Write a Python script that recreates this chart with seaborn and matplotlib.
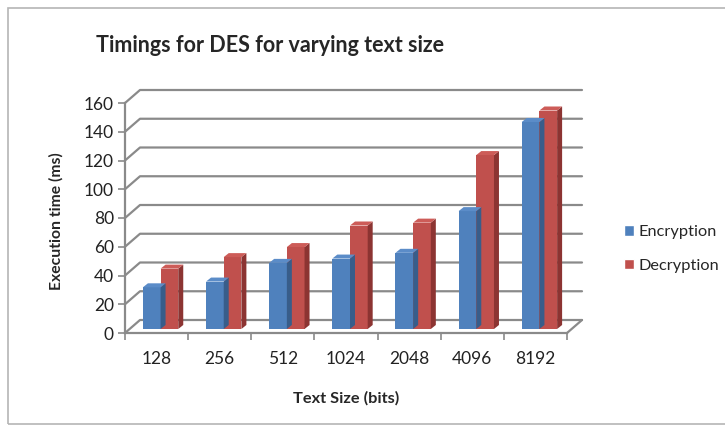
import matplotlib
matplotlib.use("Agg")
import matplotlib.pyplot as plt
from matplotlib.patches import Polygon, Rectangle
from matplotlib.lines import Line2D
import seaborn as sns
import pandas as pd

# Timing measurements (ms) per text size
text_sizes = ["128", "256", "512", "1024", "2048", "4096", "8192"]
encryption = [29, 33, 46, 49, 53, 82, 144]
decryption = [42, 50, 57, 72, 74, 121, 152]
series_names = ["Encryption", "Decryption"]
y_ticks = [0, 20, 40, 60, 80, 100, 120, 140, 160]

df = pd.DataFrame({
    "size": text_sizes * 2,
    "time": encryption + decryption,
    "series": [series_names[0]] * len(text_sizes) + [series_names[1]] * len(text_sizes),
})

sns.set_style("white")
plt.rcParams["font.family"] = ["Lato", "DejaVu Sans"]

W, H = 725, 430
fig = plt.figure(figsize=(W / 100, H / 100), dpi=100)
ax_left, ax_right, ax_bottom, ax_top = 125, 567, 333, 103
ax_w, ax_h = ax_right - ax_left, ax_bottom - ax_top
ax = fig.add_axes([ax_left / W, 1 - ax_bottom / H, ax_w / W, ax_h / H])

front = {"Encryption": "#4F81BD", "Decryption": "#C0504D"}
side = {"Encryption": "#385D8A", "Decryption": "#8C3432"}
top = {"Encryption": "#5B8CC8", "Decryption": "#CD5C58"}

sns.barplot(data=df, x="size", y="time", hue="series", order=text_sizes,
            hue_order=series_names, palette=front, width=0.56, gap=0,
            saturation=1, ax=ax, legend=False, zorder=3)

ax.set_xlim(-0.5, len(text_sizes) - 0.5)
ax.set_ylim(0, 160)

# pixel -> data conversions
px_x = len(text_sizes) / ax_w
px_y = 160 / ax_h

# back wall offset, bar placement and bar depth
bx, by = 15 * px_x, 13 * px_y
ox, oy = 4 * px_x, 4 * px_y
dx, dy = 5 * px_x, 4 * px_y

grid_col = "#8a8a8a"
x0, x1 = -0.5, len(text_sizes) - 0.5
for v in y_ticks:
    ax.add_line(Line2D([x0, x0 + bx, x1 + bx], [v, v + by, v + by],
                       color=grid_col, lw=1.6, clip_on=False, zorder=1))
# right floor edge
ax.add_line(Line2D([x1, x1 + bx], [0, by], color=grid_col, lw=1.6,
                   clip_on=False, zorder=1))

# give the flat bars a side and a top face
for p in list(ax.patches):
    fc = p.get_facecolor()
    name = "Encryption" if fc[2] > fc[0] else "Decryption"
    xl = p.get_x() + ox
    w = p.get_width()
    h = p.get_height()
    p.set_x(xl)
    p.set_y(oy)
    p.set_clip_on(False)
    p.set_edgecolor("none")
    p.set_zorder(4)
    xr = xl + w
    yt = oy + h
    ax.add_patch(Polygon([[xr, oy], [xr + dx, oy + dy], [xr + dx, yt + dy], [xr, yt]],
                         closed=True, facecolor=side[name], edgecolor="none",
                         clip_on=False, zorder=4))
    ax.add_patch(Polygon([[xl, yt], [xr, yt], [xr + dx, yt + dy], [xl + dx, yt + dy]],
                         closed=True, facecolor=top[name], edgecolor="none",
                         clip_on=False, zorder=4))

for s in ["top", "right"]:
    ax.spines[s].set_visible(False)
for s in ["left", "bottom"]:
    ax.spines[s].set_color(grid_col)
    ax.spines[s].set_linewidth(1.6)

ax.set_yticks(y_ticks)
ax.set_yticklabels([str(v) for v in y_ticks], fontsize=12.5, color="#222222")
ax.tick_params(axis="y", direction="out", length=5, width=1.2, color=grid_col,
               left=True, pad=3)
ax.set_xticks(range(len(text_sizes)))
ax.set_xticklabels(text_sizes, fontsize=12.5, color="#222222")
ax.tick_params(axis="x", length=0, pad=13)
ax.set_xticks([i - 0.5 for i in range(len(text_sizes) + 1)], minor=True)
ax.tick_params(axis="x", which="minor", direction="out", length=5, width=1.2,
               color=grid_col, bottom=True)

ax.set_xlabel("Text Size (bits)", fontsize=11.8, fontweight="bold")
ax.set_ylabel("Execution time (ms)", fontsize=11.3, fontweight="bold")
ax.xaxis.set_label_coords((346 - ax_left) / ax_w, -(398 - ax_bottom) / ax_h)
ax.yaxis.set_label_coords((56 - ax_left) / ax_w, (ax_bottom - 221) / ax_h)
ax.xaxis.label.set_va("center")
ax.yaxis.label.set_va("center")

fig.text(270 / W, 1 - 46 / H, "Timings for DES for varying text size",
         fontsize=15.5, fontweight="bold", ha="center", va="center")

handles = [Rectangle((0, 0), 1, 1, facecolor=front[n]) for n in series_names]
fig.legend(handles, series_names, loc="center left",
           bbox_to_anchor=(624 / W, 1 - 249 / H), frameon=False, fontsize=11.8,
           handlelength=0.6, handleheight=0.6, handletextpad=0.3,
           labelspacing=1.2, borderaxespad=0, borderpad=0)

# chart frame
fig.add_artist(Rectangle((8 / W, 1 - 424 / H), 740 / W, 416 / H,
                         transform=fig.transFigure, facecolor="none",
                         edgecolor="#b5b5b5", lw=1.2))

fig.savefig("out.png", dpi=100)
